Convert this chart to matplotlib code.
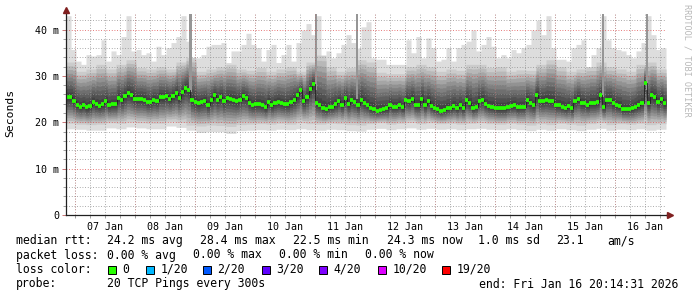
import numpy as np
import matplotlib
matplotlib.use("Agg")
import matplotlib.pyplot as plt
import matplotlib.dates as mdates
from matplotlib.patches import Rectangle
from matplotlib.ticker import MultipleLocator, FuncFormatter
import datetime as dt

# ---------------- data ----------------
start = dt.datetime(2026, 1, 6, 20, 14, 31)
end = dt.datetime(2026, 1, 16, 20, 14, 31)

median_ms = [25.4, 25.4, 24.6, 23.8, 23.4, 23.7, 23.2, 23.5, 24.4, 23.9, 23.6, 23.9, 24.6, 23.7, 23.9, 23.9,
             25.3, 24.8, 25.7, 26.3, 25.8, 25.1, 25.0, 25.1, 24.9, 24.4, 24.4, 24.9, 24.6, 25.5, 25.4, 25.6,
             25.1, 25.7, 26.3, 25.2, 26.6, 27.5, 27.0, 24.9, 24.4, 24.1, 24.4, 24.6, 23.7, 24.8, 25.8,
             24.9, 25.5, 24.6, 25.2, 25.1, 24.9, 24.6, 24.9, 25.6, 25.3, 24.2, 23.8, 23.9, 23.9, 23.7, 23.2,
             24.4, 23.7, 24.2, 24.4, 24.1, 23.9, 23.9, 24.4, 24.9, 25.8, 26.9, 24.6, 25.5, 27.1, 28.3, 24.1,
             23.7, 23.1, 22.9, 23.2, 23.4, 23.9, 24.6, 23.8, 25.2, 23.9, 24.9, 24.4, 23.7, 24.9,
             24.2, 23.7, 23.0, 22.8, 22.5, 22.7, 22.8, 23.0, 23.8, 23.4, 23.4, 23.8, 23.2, 24.8, 24.5, 25.1,
             23.7, 23.7, 25.1, 23.7, 24.6, 23.5, 23.0, 22.8, 22.5, 22.7, 23.0, 23.1, 23.5, 23.1, 23.7, 23.1,
             24.8, 24.1, 23.1, 23.4, 24.6, 24.9, 23.9, 23.5, 23.4, 23.1, 23.0, 23.0, 23.0, 23.4, 23.6,
             23.7, 23.2, 23.4, 23.4, 24.8, 24.1, 23.7, 25.9, 24.6, 24.6, 24.8, 24.6, 24.5, 23.7, 23.7, 23.4,
             23.1, 23.5, 23.0, 24.6, 25.1, 24.2, 24.1, 23.7, 24.2, 24.2, 24.4, 25.9, 23.4, 24.8, 24.9, 24.1,
             23.7, 23.5, 22.8, 22.8, 22.8, 23.0, 23.4, 23.7, 24.1, 28.5, 24.2, 25.8, 25.4, 24.4, 25.1, 24.1]

top_ms = [43.0, 35.7, 33.2, 32.5, 34.6, 34.3, 34.6, 37.8, 33.2, 35.4, 34.6, 38.5, 43.0, 35.4, 35.7,
          34.6, 35.0, 33.2, 36.4, 34.6, 36.1, 37.2, 38.5, 43.0, 37.5, 33.5, 33.9, 34.6, 36.4, 36.8,
          36.8, 37.2, 32.9, 35.4, 35.4, 36.8, 39.2, 36.8, 36.1, 33.2, 35.7, 36.8, 32.9, 34.6, 36.8,
          33.2, 37.2, 39.9, 41.3, 38.9, 43.0, 33.9, 35.4, 33.9, 35.0, 36.8, 38.9, 37.2, 36.0, 40.6,
          41.7, 33.9, 33.6, 33.6, 32.5, 32.5, 32.5, 32.5, 37.8, 35.0, 38.5, 33.9, 38.2, 36.1, 33.2,
          33.6, 36.1, 33.2, 36.1, 36.8, 37.5, 39.9, 35.4, 36.8, 38.5, 36.4, 33.9, 34.6, 33.9, 35.7,
          35.0, 36.1, 36.8, 39.9, 42.0, 38.9, 43.0, 36.1, 33.6, 33.6, 33.2, 36.1, 36.8, 37.8, 31.8,
          34.6, 36.1, 43.0, 37.8, 36.1, 35.7, 35.4, 34.6, 33.9, 35.4, 37.2, 43.0, 38.9, 35.7, 36.1]

upper_ms = [33.0, 31.0, 31.5, 32.5, 31.5, 32.5, 33.5, 31.8, 31.5, 32.0,
            31.5, 33.0, 34.0, 31.0, 31.5, 32.0, 32.5, 31.5, 31.2, 31.8,
            31.0, 31.5, 32.0, 31.0, 33.0, 34.5, 32.0, 31.0, 31.8, 33.5,
            33.0, 30.8, 30.5, 30.5, 32.0, 32.5, 32.0, 31.0, 31.5, 31.2,
            32.5, 32.5, 31.8, 32.0, 31.0, 31.3, 31.2, 32.5, 33.5, 32.0,
            31.0, 31.5, 32.0, 33.0, 32.0, 31.5, 31.0, 32.5, 33.0, 31.5]

lower_ms = [19.8, 19.6, 19.5, 19.6, 19.9, 19.8, 20.1, 19.9, 19.8, 19.8, 20.2, 20.0, 19.4, 19.2, 19.4,
            19.3, 19.1, 19.5, 19.6, 19.7, 19.6, 19.8, 19.6, 19.9, 19.7, 19.6, 19.8, 19.7, 19.5, 19.4,
            19.7, 19.9, 19.6, 19.8, 20.0, 19.7, 19.9, 19.7, 19.8, 19.6, 19.8, 19.9, 19.7, 19.6, 19.8,
            19.6, 19.4, 19.7, 19.5, 19.8, 19.6, 19.4, 19.7, 19.9, 19.5, 19.7, 19.6, 19.8, 19.5, 19.7]

bottom_ms = [18.6, 18.5, 18.3, 18.3, 18.8, 18.6, 19.0, 18.8, 18.6, 18.6, 19.2, 18.9, 18.3, 17.8, 18.0,
             18.0, 17.6, 18.2, 18.3, 18.4, 18.3, 18.5, 18.4, 18.6, 18.4, 18.3, 18.5, 18.4, 18.2, 18.1,
             18.5, 18.7, 18.4, 18.6, 18.8, 18.5, 18.7, 18.5, 18.6, 18.4, 18.6, 18.7, 18.5, 18.4, 18.6,
             18.4, 18.2, 18.5, 18.3, 18.6, 18.4, 18.2, 18.5, 18.7, 18.3, 18.5, 18.4, 18.6, 18.3, 18.5]

spike_times = ["2026-01-08 22:00", "2026-01-11 00:10", "2026-01-11 16:40",
               "2026-01-15 19:00", "2026-01-16 12:40"]
spike_lo = [26.5, 27.0, 25.0, 25.5, 27.0]
spike_hi = [43.3, 43.3, 43.3, 43.3, 43.3]

rtt_stats = ["24.2 ms avg", "28.4 ms max", "22.5 ms min", "24.3 ms now", "1.0 ms sd", "23.1", "am/s"]
loss_stats = ["0.00 % avg", "0.00 % max", "0.00 % min", "0.00 % now"]
loss_labels = ["0", "1/20", "2/20", "3/20", "4/20", "10/20", "19/20"]
loss_colors = ["#26ff00", "#00b8ff", "#0059ff", "#5e00ff", "#7e00ff", "#dd00ff", "#ff0000"]
probe_text = "20 TCP Pings every 300s"
end_text = "end: Fri Jan 16 20:14:31 2026"

# ---------------- figure ----------------
W, H = 697, 297
fig = plt.figure(figsize=(W / 100, H / 100), dpi=100)
fig.patch.set_facecolor("white")
mono = "DejaVu Sans Mono"

ax_left, ax_right, ax_bot, ax_top = 66, 666, 215, 12.7
ax = fig.add_axes([ax_left / W, 1 - ax_bot / H, (ax_right - ax_left) / W, (ax_bot - ax_top) / H])
ax.set_facecolor("white")

t0 = mdates.date2num(start)
t1 = mdates.date2num(end)
ymax = (ax_bot - ax_top) / 4.635

NF = 1200
fe = np.linspace(t0, t1, NF + 1)
frac = ((fe[:-1] + fe[1:]) / 2 - t0) / (t1 - t0)


def at(arr):
    a = np.asarray(arr, dtype=float)
    idx = np.minimum((frac * len(a)).astype(int), len(a) - 1)
    return a[idx]


med_f = at(median_ms)
top_f = at(top_ms)
up_f = at(upper_ms)
lo_f = at(lower_ms)
bot_f = at(bottom_ms)

grays = [221, 203, 184, 165, 146, 128, 111, 95, 80, 66]
nb = len(grays)
for k in range(nb):
    if k == 0:
        lo_k, hi_k = bot_f, top_f
    else:
        f = (k - 1) / 9.0
        lo_k = lo_f + (med_f - lo_f) * f * 0.96
        hi_k = up_f + (med_f - up_f) * f * 0.96
    g = grays[k]
    col = "#%02x%02x%02x" % (g, g, g)
    ax.fill_between(fe, np.append(lo_k, lo_k[-1]), np.append(hi_k, hi_k[-1]),
                    step="post", color=col, linewidth=0, zorder=1)

st = mdates.date2num([dt.datetime.strptime(s, "%Y-%m-%d %H:%M") for s in spike_times])
ax.bar(st, np.array(spike_hi) - np.array(spike_lo), bottom=spike_lo, width=0.9 / 24,
       color="#969696", linewidth=0, zorder=1.5)

me = np.linspace(t0, t1, len(median_ms) + 1)
ax.stairs(median_ms, me, baseline=None, color="#202020", linewidth=0.6, zorder=3)
ax.hlines(median_ms, me[:-1], me[1:], colors="#26ff00", linewidth=2.7, zorder=4)

ax.set_xlim(t0, t1)
ax.set_ylim(0, ymax)
ax.set_axisbelow(False)

grid_c = (0.56, 0.56, 0.56, 0.42)
mgrid_c = (0.87, 0.31, 0.31, 0.45)
dotted = (0, (1, 2.2))

ax.yaxis.set_major_locator(MultipleLocator(10))
ax.yaxis.set_minor_locator(MultipleLocator(2))
ax.yaxis.set_major_formatter(FuncFormatter(lambda v, p: "0" if v == 0 else "%d m" % v))
ax.grid(True, which="minor", axis="both", color=grid_c, linestyle=dotted, linewidth=0.6)
ax.grid(True, which="major", axis="y", color=mgrid_c, linestyle=dotted, linewidth=0.6)

ax.xaxis.set_major_locator(mdates.HourLocator(byhour=[12]))
ax.xaxis.set_major_formatter(mdates.DateFormatter("%d %b"))
ax.xaxis.set_minor_locator(mdates.HourLocator(byhour=[0, 6, 12, 18]))
ax.xaxis.remove_overlapping_locs = False
for d in range(7, 17):
    ax.axvline(mdates.date2num(dt.datetime(2026, 1, d)), color=mgrid_c, linestyle=dotted,
               linewidth=0.6, zorder=2.6)

ax.tick_params(axis="x", which="major", length=0, pad=5, labelsize=7.2, labelfontfamily=mono)
ax.tick_params(axis="x", which="minor", length=2.5, width=0.6, color="#909090", direction="out")
ax.tick_params(axis="y", which="major", length=3, width=0.6, color="#c06060", direction="out",
               pad=2, labelsize=7.2, labelfontfamily=mono)
ax.tick_params(axis="y", which="minor", length=2, width=0.6, color="#909090", direction="out")

for s in ["top", "right"]:
    ax.spines[s].set_visible(False)
for s in ["left", "bottom"]:
    ax.spines[s].set_color("#202020")
    ax.spines[s].set_linewidth(0.9)
    ax.spines[s].set_zorder(5)

ax.plot([0, 0], [1, 1.02], transform=ax.transAxes, color="#202020", lw=0.9, clip_on=False)
ax.plot([1, 1.007], [0, 0], transform=ax.transAxes, color="#202020", lw=0.9, clip_on=False)
ax.plot([0], [(ax_bot - 10) / (ax_bot - ax_top)], marker="^", color="#802020", markersize=4.2,
        transform=ax.transAxes, clip_on=False, zorder=6)
ax.plot([(670 - ax_left) / (ax_right - ax_left)], [0], marker=">", color="#802020", markersize=4.2,
        transform=ax.transAxes, clip_on=False, zorder=6)

fig.text(10 / W, 1 - 113 / H, "Seconds", rotation=90, ha="center", va="center",
         fontsize=8.2, family=mono)
fig.text(687 / W, 1 - 60 / H, "RRDTOOL / TOBI OETIKER", rotation=270, ha="center", va="center",
         fontsize=6.1, family=mono, color="#b8b8b8")

fs = 8.3


def tx(x, y, s, **kw):
    fig.text(x / W, 1 - y / H, s, ha="left", va="center", fontsize=fs, family=mono, **kw)


y1, y2, y3, y4 = 240.5, 255, 269.5, 284
tx(16, y1, "median rtt:")
for s, x in zip(rtt_stats, [107, 200, 293, 387, 478, 556, 607]):
    tx(x, y1, s)
tx(16, y2, "packet loss:")
for s, x in zip(loss_stats, [107, 193, 279, 365]):
    tx(x, y2, s)
tx(16, y3, "loss color:")
for lab, col, x in zip(loss_labels, loss_colors, [108, 146, 203, 262, 319, 378, 442]):
    fig.add_artist(Rectangle((x / W, 1 - (y3 + 4) / H), 8 / W, 8 / H, transform=fig.transFigure,
                             facecolor=col, edgecolor="black", linewidth=0.7))
    tx(x + 14.5, y3, lab)
tx(16, y4, "probe:")
tx(107, y4, probe_text)
tx(479, y4, end_text)

fig.savefig("out.png", dpi=100, facecolor="white")
